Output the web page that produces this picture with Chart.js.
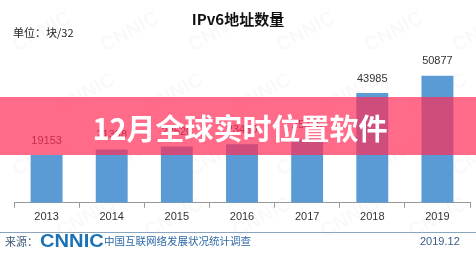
<!DOCTYPE html>
<html>
<head>
<meta charset="utf-8">
<script src="https://cdn.jsdelivr.net/npm/chart.js@4/dist/chart.umd.min.js"></script>
<style>
  html, body { margin: 0; padding: 0; background: #fff; }
  #wrap { width: 476px; height: 253px; position: relative; }
</style>
</head>
<body>
<div id="wrap"><canvas id="ipv6Chart" width="476" height="253"></canvas></div>
<script>
// chart data
const years = ['2013', '2014', '2015', '2016', '2017', '2018', '2019'];
const ipv6Blocks = [19153, 21338, 22520, 23430, 25315, 43985, 50877];

const chartTitle = 'IPv6地址数量';
const unitText = '单位：块/32';
const bannerText = '12月全球实时位置软件';
const sourceLabel = '来源：';
const sourceOrg = '中国互联网络发展状况统计调查';
const reportDate = '2019.12';

const CJK = '"Noto Sans CJK SC", "Noto Sans", sans-serif';
const LATIN = '"Liberation Sans", Arial, sans-serif';

// faint CNNIC watermark behind everything
const watermark = {
    id: 'watermark',
    beforeDraw(chart) {
        const ctx = chart.ctx;
        ctx.save();
        ctx.fillStyle = 'rgba(0, 0, 0, 0.025)';
        ctx.font = 'bold 20px ' + LATIN;
        for (let y = -10; y < 280; y += 62) {
            for (let x = -20; x < 500; x += 88) {
                ctx.save();
                ctx.translate(x + (y / 62 % 2) * 44, y);
                ctx.rotate(-0.5);
                ctx.fillText('CNNIC', 0, 0);
                ctx.restore();
            }
        }
        ctx.restore();
    }
};

// value labels over bars, titles, footer and the red banner
const decorations = {
    id: 'decorations',
    afterDatasetsDraw(chart) {
        const ctx = chart.ctx;
        const meta = chart.getDatasetMeta(0);
        ctx.save();
        ctx.fillStyle = '#333';
        ctx.font = '11px ' + LATIN;
        ctx.textAlign = 'center';
        ctx.textBaseline = 'bottom';
        meta.data.forEach((bar, i) => {
            ctx.fillText(String(ipv6Blocks[i]), bar.x, bar.y - 9);
        });
        ctx.restore();
    },
    afterDraw(chart) {
        const ctx = chart.ctx;
        const w = chart.width;
        ctx.save();

        // title + unit
        ctx.fillStyle = '#111';
        ctx.font = 'bold 15px ' + CJK;
        ctx.textAlign = 'center';
        ctx.textBaseline = 'middle';
        ctx.fillText(chartTitle, w / 2, 19);
        ctx.font = '11px ' + CJK;
        ctx.textAlign = 'left';
        ctx.fillStyle = '#222';
        ctx.fillText(unitText, 13, 33);

        // footer
        ctx.strokeStyle = '#8aa6bf';
        ctx.lineWidth = 1;
        ctx.beginPath();
        ctx.moveTo(0, 232.5);
        ctx.lineTo(w, 232.5);
        ctx.stroke();

        ctx.fillStyle = '#3d5a78';
        ctx.font = '11px ' + CJK;
        ctx.fillText(sourceLabel, 5, 242);
        ctx.save();
        ctx.fillStyle = '#1b72b5';
        ctx.font = 'bold 18px ' + LATIN;
        ctx.translate(40, 242);
        ctx.scale(1.12, 1);
        ctx.fillText('CNNIC', 0, 0);
        ctx.restore();
        ctx.fillStyle = '#2d6aa6';
        ctx.font = '10.5px ' + CJK;
        ctx.fillText(sourceOrg, 104, 241);
        ctx.fillStyle = '#3a5b85';
        ctx.font = '11px ' + LATIN;
        ctx.fillText(reportDate, 420, 242);

        // translucent banner across the middle
        ctx.fillStyle = 'rgba(255, 44, 86, 0.7)';
        ctx.fillRect(0, 97, w, 58);
        ctx.fillStyle = '#fff';
        ctx.font = 'bold 29px ' + CJK;
        ctx.textAlign = 'center';
        ctx.fillText(bannerText, 240, 129);

        ctx.restore();
    }
};

const ctx = document.getElementById('ipv6Chart').getContext('2d');
new Chart(ctx, {
    type: 'bar',
    data: {
        labels: years,
        datasets: [{
            data: ipv6Blocks,
            backgroundColor: '#5b9bd5',
            categoryPercentage: 0.49,
            barPercentage: 1
        }]
    },
    options: {
        responsive: false,
        animation: false,
        layout: { padding: { top: 53, left: 14, right: 6, bottom: 26 } },
        plugins: {
            legend: { display: false },
            tooltip: { enabled: false }
        },
        scales: {
            x: {
                grid: {
                    offset: true,
                    drawOnChartArea: false,
                    tickLength: 5,
                    color: '#999'
                },
                border: { color: '#999' },
                ticks: {
                    color: '#333',
                    padding: 3,
                    font: { family: 'Liberation Sans', size: 11 }
                }
            },
            y: {
                display: false,
                min: 0,
                max: 60000
            }
        }
    },
    plugins: [watermark, decorations]
});
</script>
</body>
</html>
